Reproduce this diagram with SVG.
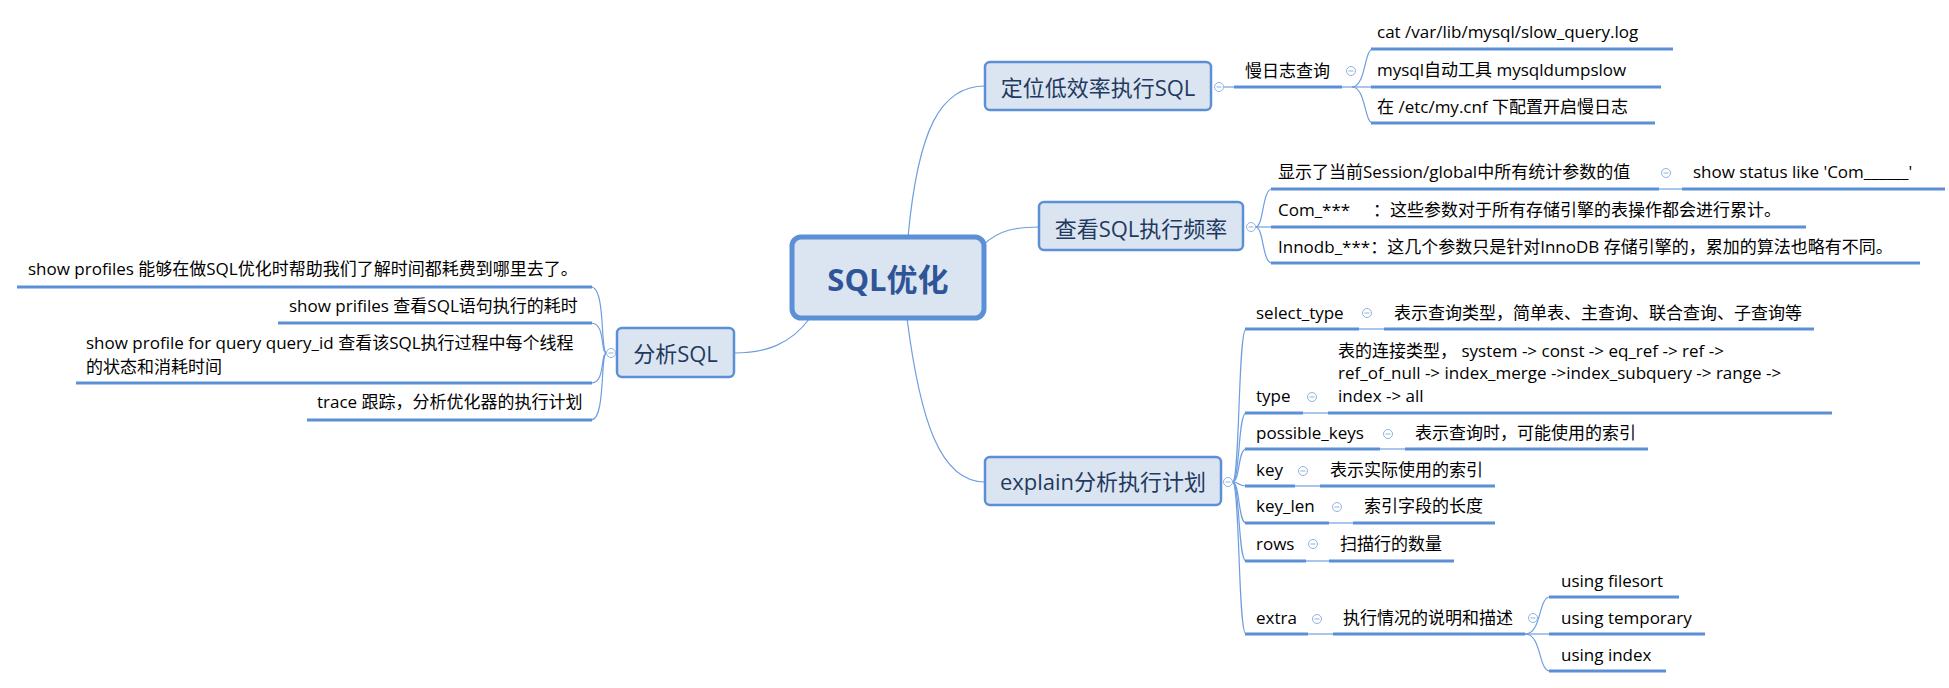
<svg xmlns="http://www.w3.org/2000/svg" width="1949" height="688" viewBox="0 0 1949 688">
<defs>
<style>
.bg{fill:#ffffff}
.box{fill:#dbe5f1;stroke:#5b8fd6;stroke-width:2.5}
.root{fill:#dbe5f1;stroke:#5b8fd6;stroke-width:5}
.ul{stroke:#5b8fd6;stroke-width:3;fill:none}
.ln{stroke:#6f9ee0;stroke-width:1.2;fill:none}
.cc{fill:#ffffff;stroke:#8fb2e3;stroke-width:1}
.cm{stroke:#8fb2e3;stroke-width:1}
.t{font-family:"Open Sans","Noto Sans CJK SC",sans-serif;font-size:17px;fill:#000000}
.tm{font-family:"Open Sans","Noto Sans CJK SC",sans-serif;font-size:22px;fill:#1f3a60;text-anchor:middle}
.tr{font-family:"Open Sans","Noto Sans CJK SC",sans-serif;font-size:31px;font-weight:bold;fill:#2f5597;text-anchor:middle}
</style>
<g id="col"><circle class="cc" r="4.5"/><line class="cm" x1="-2.5" y1="0" x2="2.5" y2="0"/></g>
</defs>
<rect class="bg" x="0" y="0" width="1949" height="688"/>

<g id="connectors">
<!-- root to main topics -->
<path class="ln" d="M908,237 C918,130 940,86 985,86"/>
<path class="ln" d="M984,244 C1000,230 1015,227 1039,227"/>
<path class="ln" d="M907,318 C920,420 940,482 985,482"/>
<path class="ln" d="M810,318 C790,345 765,353 734,353"/>
<!-- 定位 -->
<path class="ln" d="M1223.5,87 L1234,87"/>
<path class="ln" d="M1342,87 L1352,87"/>
<path class="ln" d="M1352,87 C1366,87 1364,49 1373,49"/>
<path class="ln" d="M1352,87 L1373,87"/>
<path class="ln" d="M1352,87 C1366,87 1364,123 1373,123"/>
<!-- 查看 -->
<path class="ln" d="M1255.5,227 C1264,227 1262,189 1272,189"/>
<path class="ln" d="M1255.5,227 L1272,227"/>
<path class="ln" d="M1255.5,227 C1264,227 1262,263 1272,263"/>
<path class="ln" d="M1659,189 L1682,189"/>
<!-- explain -->
<path class="ln" d="M1232.5,482 C1240,482 1238,329 1246,329"/>
<path class="ln" d="M1232.5,482 C1240,482 1238,413 1246,413"/>
<path class="ln" d="M1232.5,482 C1240,482 1238,449 1246,449"/>
<path class="ln" d="M1232.5,482 C1240,482 1238,486 1246,486"/>
<path class="ln" d="M1232.5,482 C1240,482 1238,523 1246,523"/>
<path class="ln" d="M1232.5,482 C1240,482 1238,561 1246,561"/>
<path class="ln" d="M1232.5,482 C1240,482 1238,634 1246,634"/>
<path class="ln" d="M1359,329 L1384,329"/>
<path class="ln" d="M1303,413 L1328,413"/>
<path class="ln" d="M1380,449 L1405,449"/>
<path class="ln" d="M1295,486 L1320,486"/>
<path class="ln" d="M1329,523 L1353,523"/>
<path class="ln" d="M1306,561 L1329,561"/>
<path class="ln" d="M1308,634 L1333,634"/>
<path class="ln" d="M1525,634 C1542,634 1538,597 1550,597"/>
<path class="ln" d="M1525,634 L1550,634"/>
<path class="ln" d="M1525,634 C1542,634 1538,671 1550,671"/>
<!-- 分析SQL -->
<path class="ln" d="M606.5,353 C600,353 606,287 591,287"/>
<path class="ln" d="M606.5,353 C600,353 606,323 591,323"/>
<path class="ln" d="M606.5,353 C600,353 606,383 591,383"/>
<path class="ln" d="M606.5,353 C600,353 606,420 591,420"/>
</g>

<g id="root">
<rect class="root" x="792" y="237" width="192" height="81" rx="9"/>
<text class="tr" x="888" y="291">SQL优化</text>
</g>

<g id="n-locate">
<rect class="box" x="985" y="62" width="226" height="48" rx="5"/>
<text class="tm" x="1098" y="96">定位低效率执行SQL</text>
<use href="#col" x="1219" y="87"/>
</g>
<g id="n-slowlog">
<text class="t" x="1245" y="77">慢日志查询</text>
<line class="ul" x1="1234" y1="87" x2="1342" y2="87"/>
<use href="#col" x="1351" y="71"/>
</g>
<g id="n-slow1">
<text class="t" x="1377" y="38">cat /var/lib/mysql/slow_query.log</text>
<line class="ul" x1="1371" y1="49" x2="1673" y2="49"/>
</g>
<g id="n-slow2">
<text class="t" x="1377" y="76">mysql自动工具 mysqldumpslow</text>
<line class="ul" x1="1371" y1="87" x2="1661" y2="87"/>
</g>
<g id="n-slow3">
<text class="t" x="1377" y="113">在 /etc/my.cnf 下配置开启慢日志</text>
<line class="ul" x1="1371" y1="123" x2="1655" y2="123"/>
</g>

<g id="n-freq">
<rect class="box" x="1039" y="202" width="204" height="48" rx="5"/>
<text class="tm" x="1141" y="237">查看SQL执行频率</text>
<use href="#col" x="1251" y="227"/>
</g>
<g id="n-freq1">
<text class="t" x="1278" y="178">显示了当前Session/global中所有统计参数的值</text>
<line class="ul" x1="1271" y1="189" x2="1659" y2="189"/>
<use href="#col" x="1666" y="173"/>
</g>
<g id="n-freq1a">
<text class="t" x="1693" y="178">show status like 'Com______'</text>
<line class="ul" x1="1682" y1="189" x2="1945" y2="189"/>
</g>
<g id="n-freq2">
<text class="t" x="1278" y="216">Com_***<tspan x="1373">：这些参数对于所有存储引擎的表操作都会进行累计。</tspan></text>
<line class="ul" x1="1271" y1="227" x2="1806" y2="227"/>
</g>
<g id="n-freq3">
<text class="t" x="1278" y="253">Innodb_***：这几个参数只是针对InnoDB 存储引擎的，累加的算法也略有不同。</text>
<line class="ul" x1="1271" y1="263" x2="1920" y2="263"/>
</g>

<g id="n-explain">
<rect class="box" x="985" y="457" width="236" height="48" rx="5"/>
<text class="tm" x="1103" y="490">explain分析执行计划</text>
<use href="#col" x="1228" y="482"/>
</g>
<g id="n-selecttype">
<text class="t" x="1256" y="319">select_type</text>
<line class="ul" x1="1245" y1="329" x2="1359" y2="329"/>
<use href="#col" x="1367" y="313"/>
</g>
<g id="n-selecttype-d">
<text class="t" x="1394" y="319">表示查询类型，简单表、主查询、联合查询、子查询等</text>
<line class="ul" x1="1384" y1="329" x2="1814" y2="329"/>
</g>
<g id="n-type">
<text class="t" x="1256" y="402">type</text>
<line class="ul" x1="1245" y1="413" x2="1303" y2="413"/>
<use href="#col" x="1312" y="397"/>
</g>
<g id="n-type-d">
<text class="t" x="1338" y="357">表的连接类型， system -&gt; const -&gt; eq_ref -&gt; ref -&gt;</text>
<text class="t" x="1338" y="379">ref_of_null -&gt; index_merge -&gt;index_subquery -&gt; range -&gt;</text>
<text class="t" x="1338" y="402">index -&gt; all</text>
<line class="ul" x1="1328" y1="413" x2="1832" y2="413"/>
</g>
<g id="n-possible">
<text class="t" x="1256" y="439">possible_keys</text>
<line class="ul" x1="1245" y1="449" x2="1380" y2="449"/>
<use href="#col" x="1388" y="434"/>
</g>
<g id="n-possible-d">
<text class="t" x="1415" y="439">表示查询时，可能使用的索引</text>
<line class="ul" x1="1405" y1="449" x2="1648" y2="449"/>
</g>
<g id="n-key">
<text class="t" x="1256" y="476">key</text>
<line class="ul" x1="1245" y1="486" x2="1295" y2="486"/>
<use href="#col" x="1303" y="471"/>
</g>
<g id="n-key-d">
<text class="t" x="1330" y="476">表示实际使用的索引</text>
<line class="ul" x1="1320" y1="486" x2="1495" y2="486"/>
</g>
<g id="n-keylen">
<text class="t" x="1256" y="512">key_len</text>
<line class="ul" x1="1245" y1="523" x2="1329" y2="523"/>
<use href="#col" x="1337" y="507"/>
</g>
<g id="n-keylen-d">
<text class="t" x="1364" y="512">索引字段的长度</text>
<line class="ul" x1="1353" y1="523" x2="1495" y2="523"/>
</g>
<g id="n-rows">
<text class="t" x="1256" y="550">rows</text>
<line class="ul" x1="1245" y1="561" x2="1306" y2="561"/>
<use href="#col" x="1313" y="544"/>
</g>
<g id="n-rows-d">
<text class="t" x="1340" y="550">扫描行的数量</text>
<line class="ul" x1="1329" y1="561" x2="1454" y2="561"/>
</g>
<g id="n-extra">
<text class="t" x="1256" y="624">extra</text>
<line class="ul" x1="1245" y1="634" x2="1308" y2="634"/>
<use href="#col" x="1317" y="619"/>
</g>
<g id="n-extra-d">
<text class="t" x="1343" y="624">执行情况的说明和描述</text>
<line class="ul" x1="1333" y1="634" x2="1525" y2="634"/>
<use href="#col" x="1533" y="618"/>
</g>
<g id="n-filesort">
<text class="t" x="1561" y="587">using filesort</text>
<line class="ul" x1="1549" y1="597" x2="1679" y2="597"/>
</g>
<g id="n-temporary">
<text class="t" x="1561" y="624">using temporary</text>
<line class="ul" x1="1549" y1="634" x2="1705" y2="634"/>
</g>
<g id="n-index">
<text class="t" x="1561" y="661">using index</text>
<line class="ul" x1="1549" y1="671" x2="1666" y2="671"/>
</g>

<g id="n-analyze">
<rect class="box" x="617" y="328" width="117" height="49" rx="5"/>
<text class="tm" x="675.5" y="362">分析SQL</text>
<use href="#col" x="611" y="353"/>
</g>
<g id="n-an1">
<text class="t" x="28" y="275">show profiles 能够在做SQL优化时帮助我们了解时间都耗费到哪里去了。</text>
<line class="ul" x1="17" y1="287" x2="592" y2="287"/>
</g>
<g id="n-an2">
<text class="t" x="289" y="312">show prifiles 查看SQL语句执行的耗时</text>
<line class="ul" x1="278" y1="323" x2="592" y2="323"/>
</g>
<g id="n-an3">
<text class="t" x="86" y="349">show profile for query query_id 查看该SQL执行过程中每个线程</text>
<text class="t" x="86" y="373">的状态和消耗时间</text>
<line class="ul" x1="76" y1="383" x2="592" y2="383"/>
</g>
<g id="n-an4">
<text class="t" x="317" y="408">trace 跟踪，分析优化器的执行计划</text>
<line class="ul" x1="307" y1="420" x2="592" y2="420"/>
</g>
</svg>
